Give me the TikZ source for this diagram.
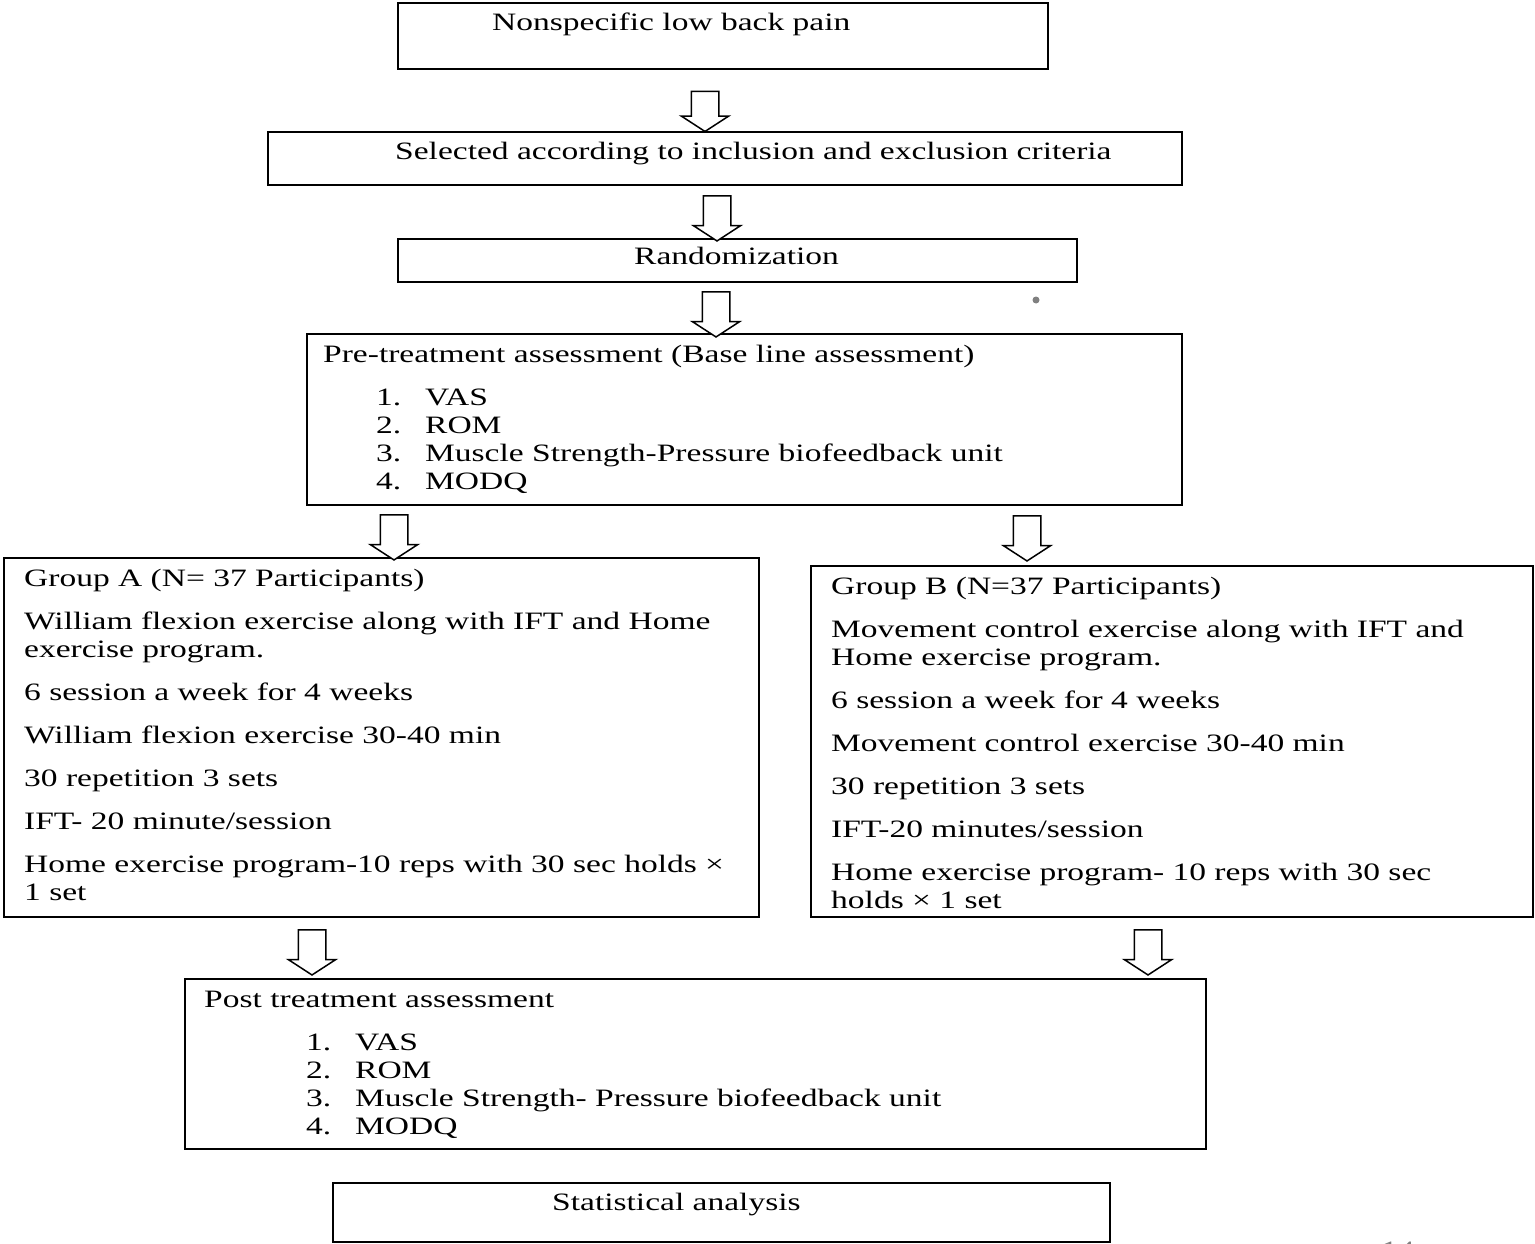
\documentclass[tikz,border=0pt]{standalone}
\usepackage{fontspec}
\setmainfont{Liberation Serif}[FakeStretch=1.34]
\usetikzlibrary{positioning, calc}
\usetikzlibrary{shapes.arrows}

\tikzset{
  box/.style={draw, line width=1.6pt, anchor=north west, inner sep=0pt},
  txt/.style={anchor=base west, inner sep=0pt, align=left,
    font=\fontsize{25}{28}\selectfont},
  downarrow/.style={single arrow, draw, line width=1.5pt, fill=white,
    rotate=-90, inner sep=13pt, minimum height=45pt, minimum width=46pt,
    single arrow head extend=10pt, single arrow tip angle=114}
}
\newcommand{\itm}[1]{\makebox[49pt][l]{#1}}

\begin{document}
\begin{tikzpicture}[x=1pt, y=-1pt]
  \useasboundingbox (0,0) rectangle (1535,1244);

  % boxes
  \node[box, minimum width=650pt, minimum height=66pt] (nlbp) at (397,2) {};
  \node[box, minimum width=914pt, minimum height=53pt] (sel) at (267,131) {};
  \node[box, minimum width=679pt, minimum height=43pt] (rand) at (397,238) {};
  \node[box, minimum width=875pt, minimum height=171pt] (pre) at (306,333) {};
  \node[box, minimum width=755pt, minimum height=359pt] (grpA) at (3,557) {};
  \node[box, minimum width=722pt, minimum height=351pt] (grpB) at (810,565) {};
  \node[box, minimum width=1021pt, minimum height=170pt] (post) at (184,978) {};
  \node[box, minimum width=777pt, minimum height=59pt] (stat) at (332,1182) {};

  % texts (multi-line ones sit on their last baseline)
  \node[txt] (nlbp-t) at (492,31) {Nonspecific low back pain};
  \node[txt] (sel-t) at (395,160) {Selected according to inclusion and exclusion criteria};
  \node[txt] (rand-t) at (634,264) {Randomization};
  \node[txt] (pre-t) at (323,489) {Pre-treatment assessment (Base line assessment)\\[15pt]
    \hspace*{53pt}\itm{1.}VAS\\
    \hspace*{53pt}\itm{2.}ROM\\
    \hspace*{53pt}\itm{3.}Muscle Strength-Pressure biofeedback unit\\
    \hspace*{53pt}\itm{4.}MODQ};
  \node[txt] (grpA-t) at (24,900) {Group A (N= 37 Participants)\\[15pt]
    William flexion exercise along with IFT and Home\\
    exercise program.\\[15pt]
    6 session a week for 4 weeks\\[15pt]
    William flexion exercise 30-40 min\\[15pt]
    30 repetition 3 sets\\[15pt]
    IFT- 20 minute/session\\[15pt]
    Home exercise program-10 reps with 30 sec holds ×\\
    1 set};
  \node[txt] (grpB-t) at (831,908) {Group B (N=37 Participants)\\[15pt]
    Movement control exercise along with IFT and\\
    Home exercise program.\\[15pt]
    6 session a week for 4 weeks\\[15pt]
    Movement control exercise 30-40 min\\[15pt]
    30 repetition 3 sets\\[15pt]
    IFT-20 minutes/session\\[15pt]
    Home exercise program- 10 reps with 30 sec\\
    holds × 1 set};
  \node[txt] (post-t) at (204,1134) {Post treatment assessment\\[15pt]
    \hspace*{102pt}\itm{1.}VAS\\
    \hspace*{102pt}\itm{2.}ROM\\
    \hspace*{102pt}\itm{3.}Muscle Strength- Pressure biofeedback unit\\
    \hspace*{102pt}\itm{4.}MODQ};
  \node[txt] (stat-t) at (552,1210) {Statistical analysis};

  % hollow arrows
  \node[downarrow, minimum height=40pt] (ar1) at (705,107) {};
  \node[downarrow] (ar2) at (717,214) {};
  \node[downarrow] (ar3) at (716,310) {};
  \node[downarrow] (ar4a) at (394,533) {};
  \node[downarrow] (ar4b) at (1027,534) {};
  \node[downarrow] (ar5a) at (312,948) {};
  \node[downarrow] (ar5b) at (1148,948) {};

  % stray dot and cut page number
  \fill[gray] (1036,300) circle (3.5pt);
  \node[txt, text=gray] (pgno) at (1381,1258) {14};
\end{tikzpicture}
\end{document}
